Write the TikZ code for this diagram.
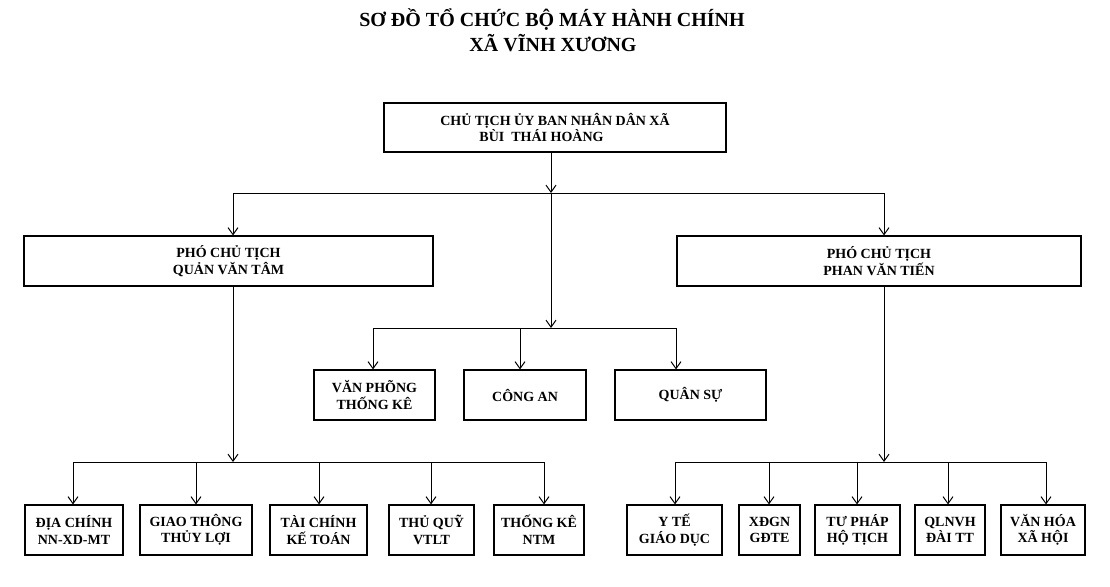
\documentclass[tikz,border=0pt]{standalone}
\usepackage{fontspec}
\setmainfont{Liberation Serif}
\usetikzlibrary{arrows.meta}
\begin{document}
\begin{tikzpicture}[x=1pt,y=-1pt,
  bx/.style={draw, line width=1.1pt, align=center, inner sep=0pt, minimum height=50pt,
    font=\bfseries\fontsize{14}{16.5}\selectfont},
  conn/.style={line width=1pt},
  arr/.style={line width=1pt, -{Straight Barb[length=7pt,width=10pt,line width=1pt]}},
  ttl/.style={font=\bfseries\fontsize{20}{25}\selectfont, inner sep=0pt, anchor=base}]
\useasboundingbox (0,0) rectangle (1110,586);
\fill[white] (0,0) rectangle (1110,586);
% title
\node[ttl] (t1) at (552,27) {SƠ ĐỒ TỔ CHỨC BỘ MÁY HÀNH CHÍNH};
\node[ttl] (t2) at (553,52) {XÃ VĨNH XƯƠNG};
% boxes
\node[bx, minimum width=342pt, minimum height=49pt] (top) at (555,127.5)
  {CHỦ TỊCH ỦY BAN NHÂN DÂN XÃ\\BÙI\ \ THÁI HOÀNG\rule{27pt}{0pt}};
\node[bx, minimum width=409pt] (pl) at (228.5,261) {PHÓ CHỦ TỊCH\\QUẢN VĂN TÂM};
\node[bx, minimum width=404pt] (pr) at (879,261) {PHÓ CHỦ TỊCH\\PHAN VĂN TIẾN};
\node[bx, minimum width=121pt] (m1) at (374.5,395) {VĂN PHÕNG\\THỐNG KÊ};
\node[bx, minimum width=122pt] (m2) at (525,395) {CÔNG AN};
\node[bx, minimum width=151pt] (m3) at (690.5,395) {QUÂN SỰ};
\node[bx, minimum width=98pt] (b1) at (74,530) {ĐỊA CHÍNH\\NN-XD-MT};
\node[bx, minimum width=112pt] (b2) at (196,530) {GIAO THÔNG\\THỦY LỢI};
\node[bx, minimum width=97pt] (b3) at (318.5,530) {TÀI CHÍNH\\KẾ TOÁN};
\node[bx, minimum width=85pt] (b4) at (431.5,530) {THỦ QUỸ\\VTLT};
\node[bx, minimum width=90pt] (b5) at (539,530) {THỐNG KÊ\\NTM};
\node[bx, minimum width=95pt] (c1) at (674.5,530) {Y TẾ\\GIÁO DỤC};
\node[bx, minimum width=61pt] (c2) at (769.5,530) {XĐGN\\GĐTE};
\node[bx, minimum width=85pt] (c3) at (857.5,530) {TƯ PHÁP\\HỘ TỊCH};
\node[bx, minimum width=70pt] (c4) at (950,530) {QLNVH\\ĐÀI TT};
\node[bx, minimum width=84pt] (c5) at (1043,530) {VĂN HÓA\\XÃ HỘI};
% junction coordinates
\coordinate (j1) at (551,193);
\coordinate (jl) at (233,193);
\coordinate (jr) at (884,193);
\coordinate (j2) at (551,328);
\coordinate (k1) at (373,328);
\coordinate (k2) at (520,328);
\coordinate (k3) at (676,328);
\coordinate (ljn) at (233,462);
\coordinate (l1) at (73,462);
\coordinate (l2) at (196,462);
\coordinate (l3) at (319,462);
\coordinate (l4) at (431,462);
\coordinate (l5) at (544,462);
\coordinate (rjn) at (884,462);
\coordinate (r1) at (675,462);
\coordinate (r2) at (769,462);
\coordinate (r3) at (857,462);
\coordinate (r4) at (948,462);
\coordinate (r5) at (1046,462);
% connectors: top level
\draw[arr] (j1 |- top.south) -- (j1);
\draw[conn] (jl) -- (jr);
\draw[arr] (jl) -- (jl |- pl.north);
\draw[arr] (jr) -- (jr |- pr.north);
% middle group
\draw[arr] (j1) -- (j2);
\draw[conn] (k1) -- (k3);
\draw[arr] (k1) -- (k1 |- m1.north);
\draw[arr] (k2) -- (k2 |- m2.north);
\draw[arr] (k3) -- (k3 |- m3.north);
% left group
\draw[arr] (ljn |- pl.south) -- (ljn);
\draw[conn] (l1) -- (l5);
\draw[arr] (l1) -- (l1 |- b1.north);
\draw[arr] (l2) -- (l2 |- b2.north);
\draw[arr] (l3) -- (l3 |- b3.north);
\draw[arr] (l4) -- (l4 |- b4.north);
\draw[arr] (l5) -- (l5 |- b5.north);
% right group
\draw[arr] (rjn |- pr.south) -- (rjn);
\draw[conn] (r1) -- (r5);
\draw[arr] (r1) -- (r1 |- c1.north);
\draw[arr] (r2) -- (r2 |- c2.north);
\draw[arr] (r3) -- (r3 |- c3.north);
\draw[arr] (r4) -- (r4 |- c4.north);
\draw[arr] (r5) -- (r5 |- c5.north);
\end{tikzpicture}
\end{document}
